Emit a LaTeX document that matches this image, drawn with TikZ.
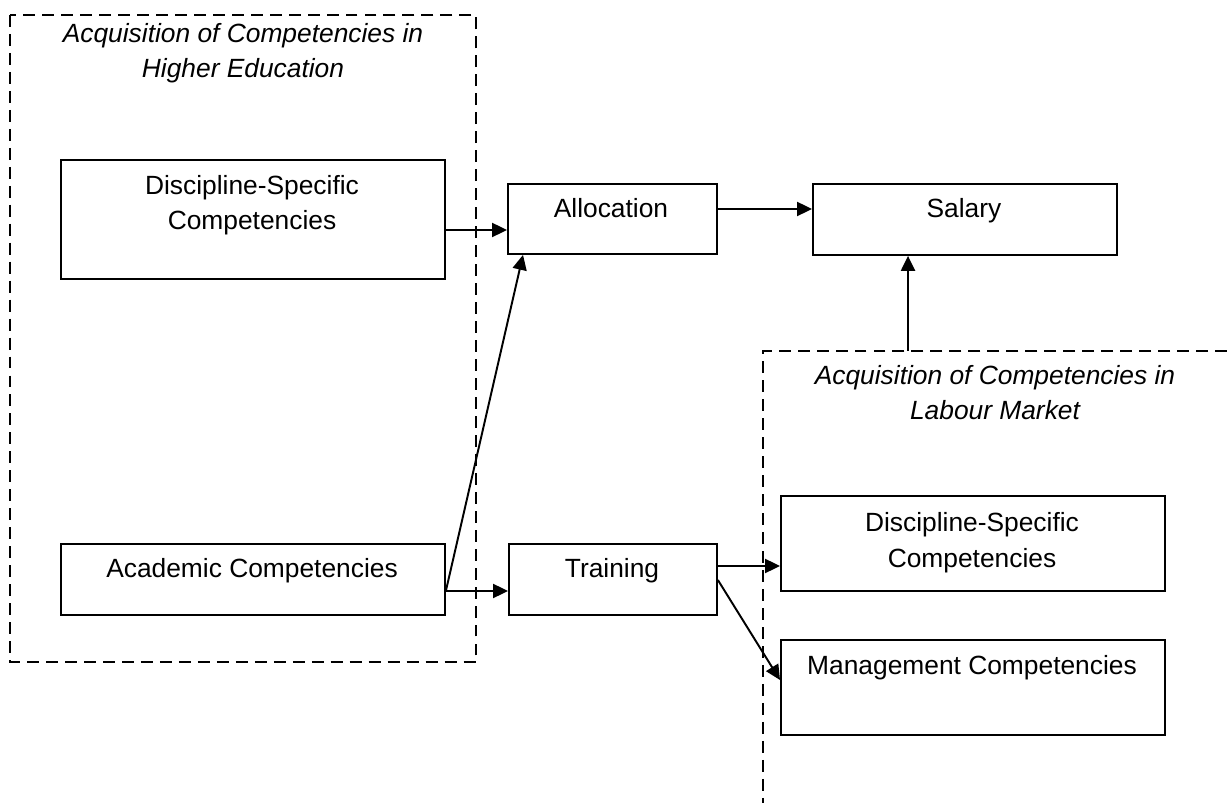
\documentclass[tikz,border=0pt]{standalone}
\usepackage{fontspec}
\setmainfont{Liberation Sans}
\usepackage{tikz}
\usetikzlibrary{arrows.meta,positioning}

\begin{document}
\begin{tikzpicture}[
    x=0.02cm, y=-0.02cm,
    >={Triangle[length=8.5pt,width=8pt]},
    font=\fontsize{15}{20.3}\selectfont,
    box/.style={draw, line width=1.1pt, rectangle, inner sep=0pt, anchor=north west},
    group/.style={draw, line width=1.1pt, dash pattern=on 6.8pt off 4pt},
    title/.style={align=center, anchor=base, font=\fontsize{15}{20.3}\selectfont\itshape},
    txt/.style={align=center, anchor=base},
    conn/.style={->, line width=1.1pt}
]
    \useasboundingbox (0,0) rectangle (1227,803);

    % Dashed groups
    \draw[group] (10,15) rectangle (476,662);
    \draw[group] (1227,351) -- (763,351) -- (763,803);
    \coordinate (lmtop) at (908,351);

    % Group titles (base = last line)
    \node[title] (hetitle) at (243,78) {Acquisition of Competencies in\\Higher Education};
    \node[title] (lmtitle) at (995,420) {Acquisition of Competencies in\\Labour Market};

    % Boxes
    \node[box, minimum width=7.68cm, minimum height=2.38cm] (dshe) at (60,159) {};
    \node[box, minimum width=7.68cm, minimum height=1.42cm] (acad) at (60,543) {};
    \node[box, minimum width=4.18cm, minimum height=1.40cm] (alloc) at (507,183) {};
    \node[box, minimum width=6.08cm, minimum height=1.42cm] (salary) at (812,183) {};
    \node[box, minimum width=4.16cm, minimum height=1.42cm] (train) at (508,543) {};
    \node[box, minimum width=7.68cm, minimum height=1.90cm] (dslm) at (780,495) {};
    \node[box, minimum width=7.68cm, minimum height=1.90cm] (mgmt) at (780,639) {};

    % Box texts
    \node[txt] (dshetext) at (252,230) {Discipline-Specific\\Competencies};
    \node[txt] (acadtext) at (252,578) {Academic Competencies};
    \node[txt] (alloctext) at (611,218) {Allocation};
    \node[txt] (salarytext) at (964,218) {Salary};
    \node[txt] (traintext) at (612,578) {Training};
    \node[txt] (dslmtext) at (972,567) {Discipline-Specific\\Competencies};
    \node[txt] (mgmttext) at (972,674) {Management Competencies};

    % Connectors
    \draw[conn] (dshe.east |- 0,230) -- (alloc.west |- 0,230);
    \draw[conn] (acad.east |- 0,591) -- (train.west |- 0,591);
    \draw[conn] (acad.east |- 0,591) -- ([xshift=0.32cm]alloc.south west);
    \draw[conn] (alloc.east |- 0,209) -- (salary.west |- 0,209);
    \draw[conn] (train.east |- 0,566) -- (dslm.west |- 0,566);
    \draw[conn] (train.east |- 0,580) -- (mgmt.west |- 0,680);
    \draw[conn] (lmtop) -- (lmtop |- salary.south);
\end{tikzpicture}
\end{document}
